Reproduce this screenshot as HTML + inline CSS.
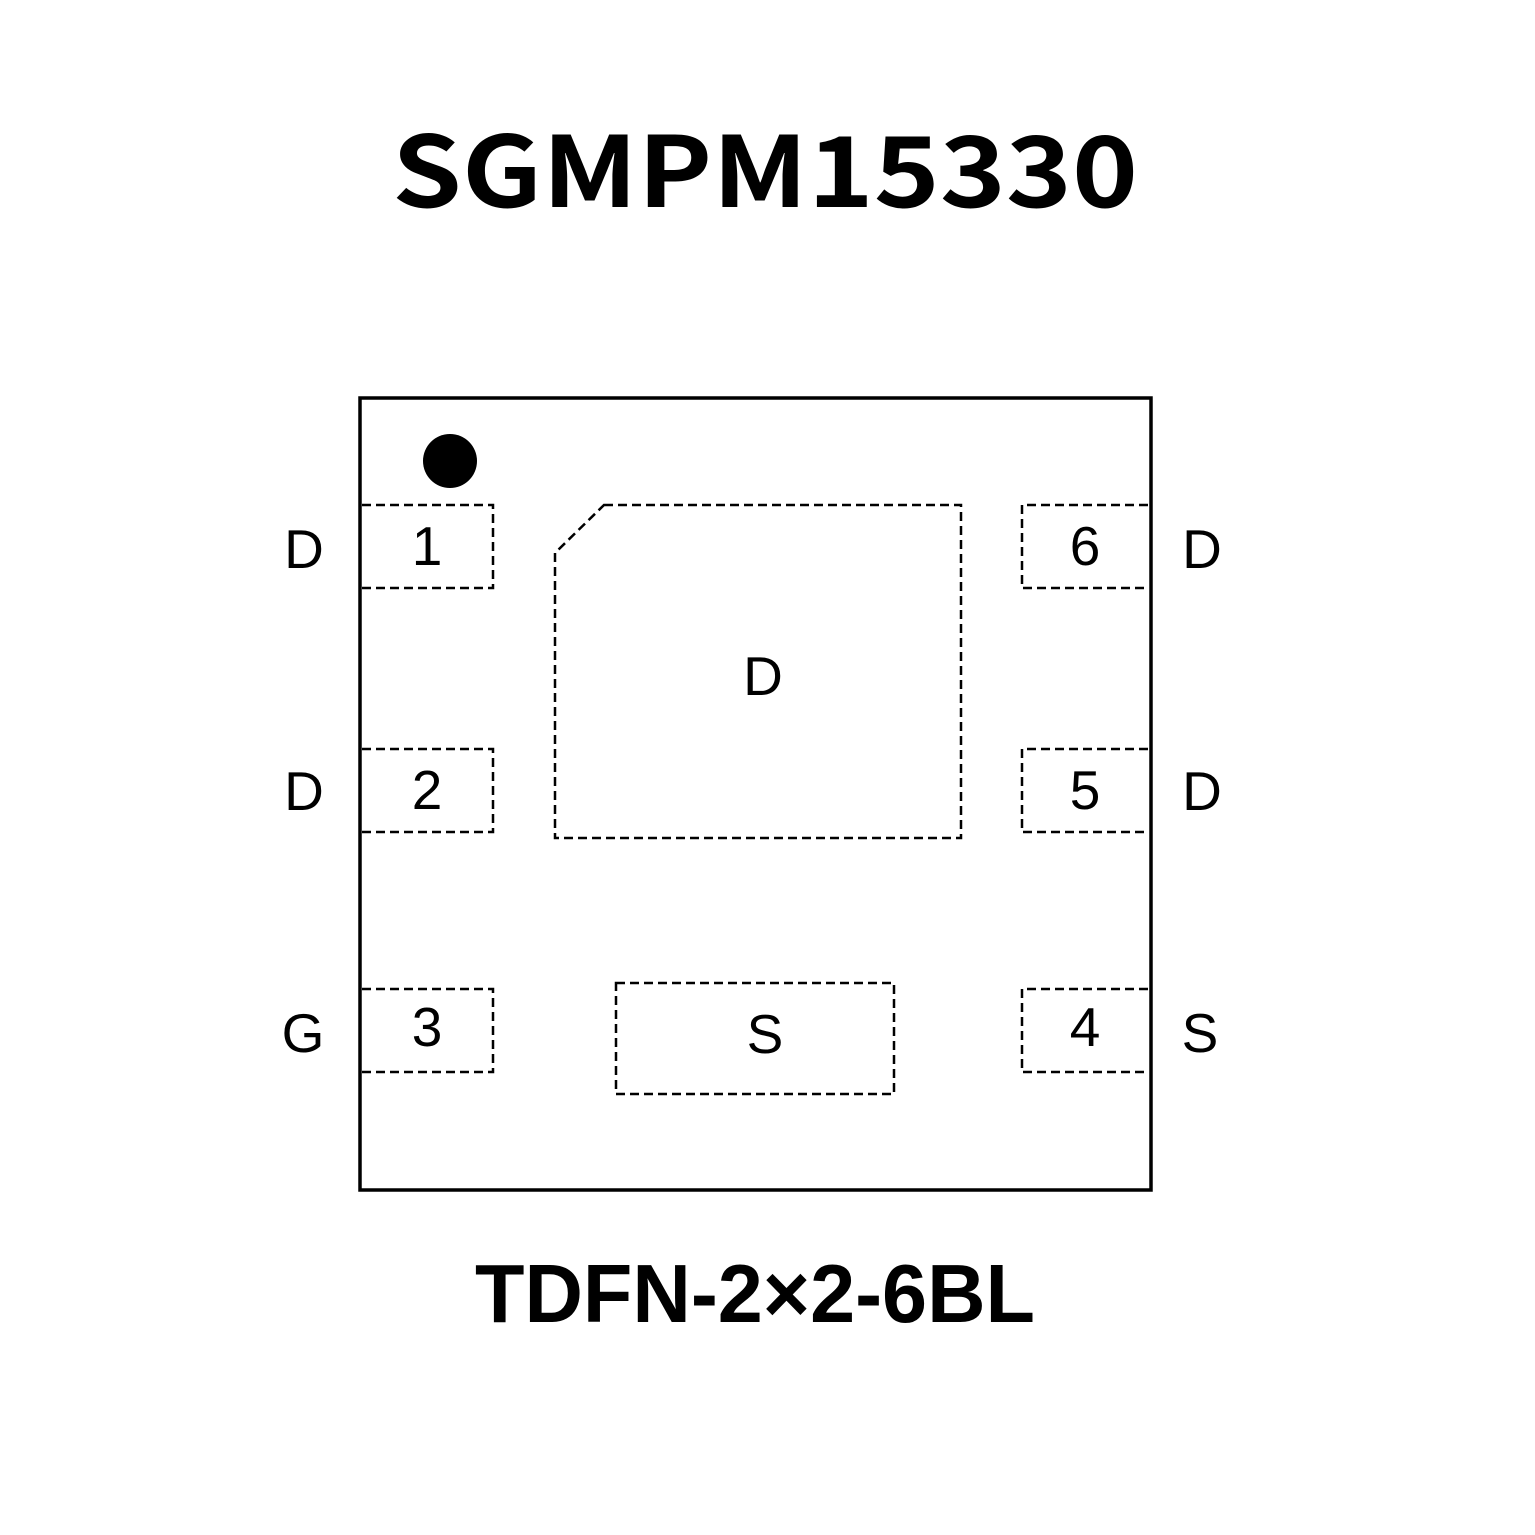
<!DOCTYPE html>
<html><head><meta charset="utf-8"><style>html,body{margin:0;padding:0;background:#fff}svg{display:block}</style></head><body>
<svg width="1535" height="1535" viewBox="0 0 1535 1535" xmlns="http://www.w3.org/2000/svg">
<rect width="1535" height="1535" fill="#fff"/>
<text x="765" y="207" text-anchor="middle" font-family="Noto Sans CJK SC, Liberation Sans, sans-serif" font-weight="bold" font-size="98" textLength="746" lengthAdjust="spacingAndGlyphs">SGMPM15330</text>
<rect x="360" y="398" width="791" height="792" fill="none" stroke="#000" stroke-width="3.5"/>
<circle cx="450" cy="461" r="27" fill="#000"/>
<g fill="none" stroke="#000" stroke-width="2.5" stroke-dasharray="9,5">
<path d="M362 505 H493 V588 H362"/>
<path d="M362 749 H493 V832 H362"/>
<path d="M362 989 H493 V1072 H362"/>
<path d="M1148 505 H1022 V588 H1148"/>
<path d="M1148 749 H1022 V832 H1148"/>
<path d="M1148 989 H1022 V1072 H1148"/>
<path d="M604 505 H961 V838 H555 V553 Z"/>
<rect x="616" y="983" width="278" height="111"/>
</g>
<g font-family="Liberation Sans, sans-serif" font-size="55" text-anchor="middle" fill="#000">
<text x="304" y="568">D</text>
<text x="304" y="810">D</text>
<text x="303" y="1052">G</text>
<text x="427" y="565">1</text>
<text x="427" y="809">2</text>
<text x="427" y="1046">3</text>
<text x="1085" y="565">6</text>
<text x="1085" y="809">5</text>
<text x="1085" y="1046">4</text>
<text x="1202" y="568">D</text>
<text x="1202" y="810">D</text>
<text x="1200" y="1052">S</text>
<text x="763" y="695">D</text>
<text x="765" y="1053">S</text>
</g>
<text x="755" y="1322" text-anchor="middle" font-family="Liberation Sans, sans-serif" font-weight="bold" font-size="83" textLength="560" lengthAdjust="spacingAndGlyphs">TDFN-2×2-6BL</text>
</svg>
</body></html>
